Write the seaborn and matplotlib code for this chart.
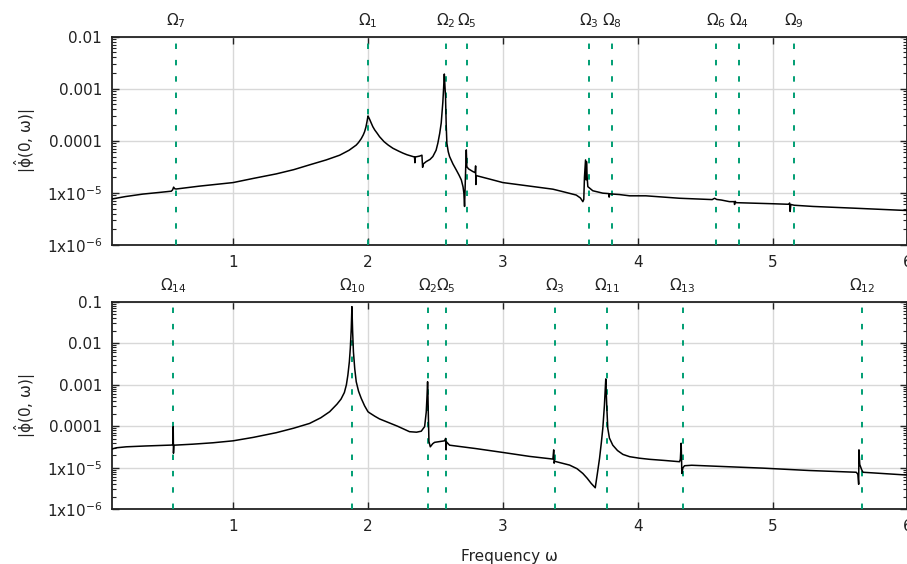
import numpy as np
import pandas as pd
import matplotlib
matplotlib.use("Agg")
import matplotlib.pyplot as plt
from matplotlib.ticker import LogLocator, NullLocator, FixedLocator
import seaborn as sns

# ---------------- data ----------------
top_omega = [0.097, 0.20, 0.331, 0.45, 0.542, 0.552, 0.559, 0.568, 0.579, 0.75, 1.0, 1.15, 1.32, 1.45,
             1.567, 1.69, 1.79, 1.86, 1.913, 1.93, 1.95, 1.965, 1.975, 1.985, 1.993, 2.0, 2.006, 2.012,
             2.024, 2.036, 2.05, 2.068, 2.086, 2.12, 2.15, 2.185, 2.23, 2.26, 2.29,
             2.333, 2.345, 2.348, 2.351, 2.383, 2.400, 2.405, 2.41, 2.432, 2.46, 2.481, 2.505, 2.518,
             2.532, 2.543, 2.555, 2.560, 2.566, 2.570, 2.575, 2.580, 2.585, 2.595, 2.605, 2.63, 2.655,
             2.675, 2.692, 2.705, 2.711, 2.716, 2.720, 2.724, 2.729, 2.733, 2.745, 2.778, 2.795, 2.798,
             2.800, 2.803, 2.9, 3.0, 3.2, 3.371, 3.45, 3.544, 3.575, 3.593, 3.600, 3.605, 3.613, 3.617,
             3.620, 3.625, 3.630, 3.667, 3.741, 3.785, 3.788, 3.792, 3.865, 3.94, 4.06, 4.31, 4.552,
             4.570, 4.585, 4.62, 4.68, 4.715, 4.718, 4.722, 4.73, 5.0, 5.12, 5.126, 5.130, 5.135, 5.16,
             5.30, 5.6, 5.99, 6.0]
top_phi = [7.6e-6, 8.5e-6, 9.5e-6, 1.02e-5, 1.08e-5, 1.15e-5, 1.29e-5, 1.2e-5, 1.19e-5, 1.35e-5, 1.58e-5,
           1.9e-5, 2.32e-5, 2.8e-5, 3.46e-5, 4.3e-5, 5.3e-5, 6.6e-5, 8.3e-5, 9.3e-5, 1.1e-4, 1.3e-4,
           1.5e-4, 1.85e-4, 2.35e-4, 3.0e-4, 2.8e-4, 2.6e-4, 2.2e-4, 1.87e-4, 1.62e-4, 1.4e-4, 1.2e-4,
           9.6e-5, 8.3e-5, 7.2e-5, 6.3e-5, 5.8e-5, 5.4e-5,
           5.0e-5, 4.9e-5, 3.8e-5, 4.9e-5, 5.1e-5,
           5.3e-5, 3.1e-5, 3.6e-5, 4.0e-5, 4.4e-5, 5.0e-5, 6.6e-5, 9.0e-5, 1.4e-4, 2.2e-4, 5.5e-4,
           9.5e-4, 1.92e-3, 1.2e-3, 7.0e-4, 2.0e-4, 9.0e-5, 6.2e-5, 5.0e-5, 3.6e-5, 2.75e-5, 2.2e-5,
           1.78e-5, 1.3e-5, 9.9e-6, 5.5e-6, 1.2e-5, 2.75e-5, 6.7e-5, 3.2e-5, 2.9e-5, 2.57e-5, 2.45e-5,
           3.3e-5, 1.45e-5, 2.15e-5, 1.85e-5, 1.58e-5, 1.35e-5, 1.18e-5, 1.05e-5, 9.1e-6, 8.0e-6, 6.8e-6,
           7.5e-6, 2.0e-5, 4.3e-5, 1.78e-5, 4.0e-5, 2.0e-5, 1.32e-5, 1.1e-5, 9.9e-6, 9.7e-6, 8.3e-6,
           9.6e-6, 9.3e-6, 8.8e-6, 8.8e-6, 7.9e-6, 7.45e-6, 7.9e-6, 7.5e-6, 7.3e-6, 6.8e-6, 6.8e-6,
           6.0e-6, 6.9e-6, 6.5e-6, 6.2e-6, 6.05e-6, 6.4e-6, 4.4e-6, 6.0e-6, 5.8e-6, 5.5e-6, 5.1e-6,
           4.6e-6, 4.6e-6]

bot_omega = [0.097, 0.134, 0.208, 0.35, 0.542, 0.553, 0.556, 0.558, 0.561, 0.70, 0.85, 1.0, 1.15, 1.32,
             1.45, 1.567, 1.65, 1.716, 1.77, 1.80, 1.825, 1.84, 1.851, 1.862, 1.869, 1.876, 1.881, 1.886,
             1.892, 1.902, 1.913, 1.93, 1.95, 1.975, 2.0, 2.012, 2.05, 2.086, 2.136, 2.22, 2.308, 2.36, 2.395,
             2.42, 2.432, 2.438, 2.442, 2.445, 2.447, 2.452, 2.462, 2.48, 2.494, 2.568, 2.576, 2.579,
             2.582, 2.605, 2.8, 3.0, 3.198, 3.371, 3.377, 3.380, 3.385, 3.396, 3.495, 3.55, 3.593, 3.625,
             3.655, 3.685, 3.70, 3.717, 3.73, 3.741, 3.753, 3.763, 3.767, 3.771, 3.778, 3.79, 3.815,
             3.85, 3.89, 3.94, 4.013, 4.087, 4.2, 4.31, 4.316, 4.322, 4.325, 4.327, 4.335, 4.347, 4.40,
             4.43, 4.93, 5.27, 5.62, 5.632, 5.638, 5.640, 5.646, 5.66, 5.67, 5.99, 6.0]
bot_phi = [2.8e-5, 3.03e-5, 3.2e-5, 3.35e-5, 3.52e-5, 3.6e-5, 9.8e-5, 2.24e-5, 3.5e-5, 3.7e-5, 4.0e-5,
           4.46e-5, 5.4e-5, 7.0e-5, 9.0e-5, 1.17e-4, 1.6e-4, 2.24e-4, 3.4e-4, 4.5e-4, 6.5e-4, 1.0e-3,
           1.71e-3, 3.6e-3, 7.5e-3, 2.2e-2, 7.6e-2, 2.0e-2, 6.3e-3, 2.4e-3, 1.18e-3, 7.0e-4, 4.7e-4,
           3.1e-4, 2.24e-4, 2.1e-4, 1.75e-4, 1.5e-4, 1.29e-4, 1.0e-4, 7.4e-5, 7.2e-5, 7.6e-5, 9.8e-5,
           2.2e-4, 5.5e-4, 1.18e-3, 5.0e-4, 2.2e-4, 4.3e-5, 3.2e-5, 3.8e-5, 4.1e-5, 4.46e-5, 5.1e-5,
           2.7e-5, 4.2e-5, 3.5e-5, 2.9e-5, 2.34e-5, 1.88e-5, 1.62e-5, 2.7e-5, 1.29e-5, 1.45e-5, 1.4e-5,
           1.16e-5, 9.5e-6, 7.3e-6, 5.6e-6, 4.2e-6, 3.3e-6, 7.0e-6, 1.7e-5, 4.0e-5, 8.9e-5, 3.2e-4,
           1.38e-3, 6.0e-4, 2.7e-4, 8.9e-5, 5.2e-5, 3.5e-5, 2.6e-5, 2.1e-5, 1.85e-5, 1.7e-5, 1.6e-5,
           1.5e-5, 1.4e-5, 1.6e-5, 3.9e-5, 1.5e-5, 7.3e-6, 1.0e-5, 1.12e-5, 1.15e-5, 1.14e-5, 9.8e-6,
           8.6e-6, 7.8e-6, 7.0e-6, 4.0e-6, 2.7e-5, 1.2e-5, 9.0e-6, 7.8e-6, 6.7e-6, 6.7e-6]

top_modes = ["7", "1", "2", "5", "3", "8", "6", "4", "9"]
top_mode_pos = [0.576, 2.0, 2.575, 2.733, 3.635, 3.808, 4.577, 4.749, 5.155]
bot_modes = ["14", "10", "2", "5", "3", "11", "13", "12"]
bot_mode_pos = [0.557, 1.884, 2.444, 2.580, 3.385, 3.774, 4.332, 5.664]

x_ticks = [1, 2, 3, 4, 5, 6]
x_ticklabels = ["1", "2", "3", "4", "5", "6"]
top_yticks = [1e-6, 1e-5, 1e-4, 1e-3, 1e-2]
top_yticklabels = [r"1x10$^{-6}$", r"1x10$^{-5}$", "0.0001", "0.001", "0.01"]
bot_yticks = [1e-6, 1e-5, 1e-4, 1e-3, 1e-2, 1e-1]
bot_yticklabels = [r"1x10$^{-6}$", r"1x10$^{-5}$", "0.0001", "0.001", "0.01", "0.1"]

# ---------------- style ----------------
sns.set_theme(style="white")
plt.rcParams["font.family"] = ["DejaVu Sans"]
plt.rcParams["mathtext.fontset"] = "dejavusans"
plt.rcParams["mathtext.default"] = "regular"
FS = 11

W, H = 907, 564
fig = plt.figure(figsize=(W / 100, H / 100), dpi=100)
left_px, right_px = 111.7, 907.5


def make_axes(top_px, bot_px):
    return fig.add_axes([left_px / W, 1 - bot_px / H, (right_px - left_px) / W, (bot_px - top_px) / H])


ax1 = make_axes(36.7, 245.0)
ax2 = make_axes(301.7, 509.3)

GREEN = "#009e73"

for ax, om, ph, modes, mpos, yt, ytl, ylim in [
    (ax1, top_omega, top_phi, top_modes, top_mode_pos, top_yticks, top_yticklabels, (1e-6, 1e-2)),
    (ax2, bot_omega, bot_phi, bot_modes, bot_mode_pos, bot_yticks, bot_yticklabels, (1e-6, 1e-1)),
]:
    df = pd.DataFrame({"omega": om, "phi": ph})
    ax.set_yscale("log")
    sns.lineplot(data=df, x="omega", y="phi", ax=ax, color="black", lw=1.1,
                 estimator=None, sort=False, zorder=4)
    for m, p in zip(modes, mpos):
        ax.axvline(p, color=GREEN, lw=1.4, linestyle=(0, (2.8, 5.6)), zorder=3)
        ax.text(p, 1 + 16 / 208, r"$\Omega_{%s}$" % m, transform=ax.get_xaxis_transform(),
                ha="center", va="center", fontsize=FS, color="#222222")
    ax.set_xlim(0.1, 6.0)
    ax.set_ylim(*ylim)
    ax.xaxis.set_major_locator(FixedLocator(x_ticks))
    ax.set_xticklabels(x_ticklabels)
    ax.xaxis.set_minor_locator(NullLocator())
    ax.yaxis.set_major_locator(FixedLocator(yt))
    ax.set_yticklabels(ytl)
    ax.yaxis.set_minor_locator(LogLocator(base=10, subs=np.arange(2, 10)))
    ax.tick_params(which="both", direction="in", top=True, right=True, bottom=True, left=True,
                   colors="#222222", labelsize=FS, labelcolor="#222222")
    ax.tick_params(which="major", length=5, width=1.0)
    ax.tick_params(which="minor", length=3, width=0.8)
    ax.tick_params(axis="y", pad=7)
    ax.tick_params(axis="x", pad=7)
    ax.grid(True, which="major", color="#d8d8d8", lw=1.0)
    ax.set_axisbelow(True)
    for s in ax.spines.values():
        s.set_color("#222222")
        s.set_linewidth(1.3)
    ax.set_ylabel(r"|$\hat{\phi}$(0, ω)|", fontsize=FS, color="#222222")
    ax.yaxis.label.set_va("center")
    ax.yaxis.set_label_coords((25 - left_px) / (right_px - left_px), 0.5)
    ax.set_xlabel("")

ax2.set_xlabel("Frequency ω", fontsize=FS, color="#222222")
ax2.xaxis.label.set_va("center")
ax2.xaxis.set_label_coords(0.5, (509.3 - 556) / 207.6)

fig.savefig("out.png", dpi=100)
